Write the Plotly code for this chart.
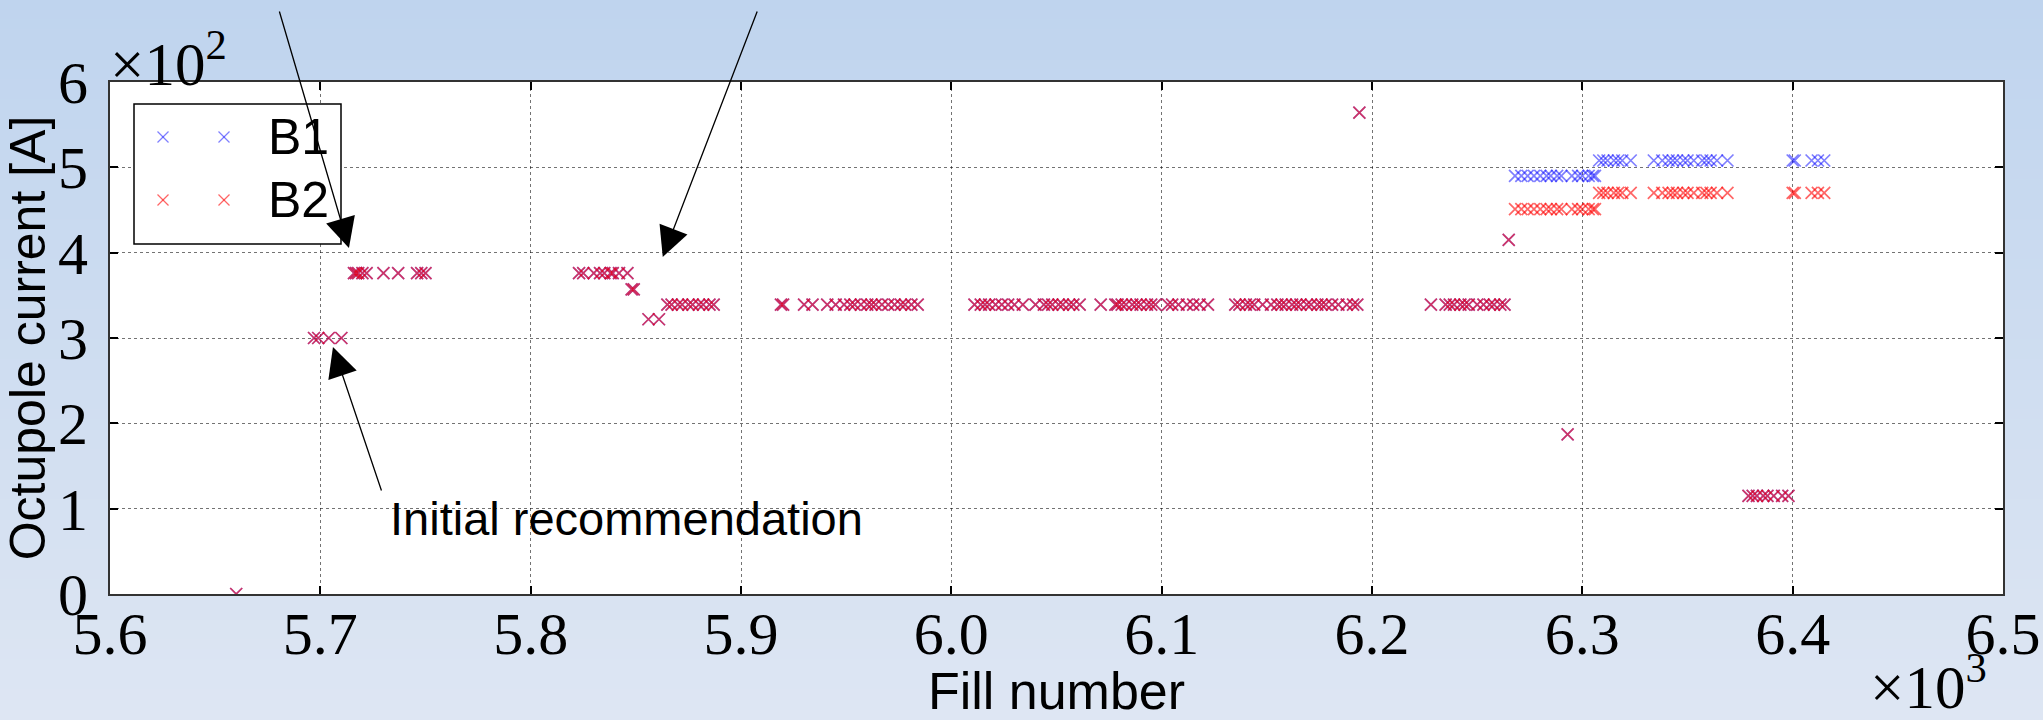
import plotly.graph_objects as go

# ---------------- data ----------------
# Fills where both beams had the same octupole current
fill_common = [5660,
               5697, 5699, 5704, 5710,
               5716, 5717, 5718, 5720, 5722, 5730, 5737, 5746, 5748, 5750,
               5823, 5825, 5830, 5833, 5835, 5838, 5839, 5842, 5846,
               5848, 5849,
               5856, 5861,
               5865, 5867, 5870, 5872, 5875, 5877, 5880, 5882, 5885, 5887,
               5919, 5920, 5930, 5934,
               5941, 5945, 5949, 5952, 5954, 5957, 5960, 5962, 5964, 5967,
               5970, 5973, 5976, 5978, 5981, 5984,
               6011, 6014, 6016, 6018, 6021, 6024, 6027, 6030, 6034,
               6040, 6044, 6046, 6048, 6051, 6053, 6056, 6058, 6061,
               6071, 6078, 6079, 6081, 6083, 6086, 6088, 6090, 6093, 6095, 6097,
               6103, 6105, 6108, 6112, 6115, 6118, 6122,
               6135, 6137, 6140, 6142, 6144, 6148, 6152, 6155, 6157, 6159,
               6162, 6164, 6166, 6169, 6171, 6174, 6176, 6178, 6181, 6184,
               6188, 6191, 6193,
               6194,
               6228, 6235, 6237, 6239, 6242, 6244, 6246, 6250, 6253, 6256,
               6258, 6261, 6263,
               6265,
               6293,
               6379, 6381, 6383, 6386, 6388, 6391, 6395, 6398]
current_common = [0,
                  300, 300, 300, 300,
                  376, 376, 376, 376, 376, 376, 376, 376, 376, 376,
                  376, 376, 376, 376, 376, 376, 376, 376, 376,
                  357, 357,
                  322, 322,
                  339, 339, 339, 339, 339, 339, 339, 339, 339, 339,
                  339, 339, 339, 339,
                  339, 339, 339, 339, 339, 339, 339, 339, 339, 339,
                  339, 339, 339, 339, 339, 339,
                  339, 339, 339, 339, 339, 339, 339, 339, 339,
                  339, 339, 339, 339, 339, 339, 339, 339, 339,
                  339, 339, 339, 339, 339, 339, 339, 339, 339, 339, 339,
                  339, 339, 339, 339, 339, 339, 339,
                  339, 339, 339, 339, 339, 339, 339, 339, 339, 339,
                  339, 339, 339, 339, 339, 339, 339, 339, 339, 339,
                  339, 339, 339,
                  564,
                  339, 339, 339, 339, 339, 339, 339, 339, 339, 339,
                  339, 339, 339,
                  415,
                  187,
                  115, 115, 115, 115, 115, 115, 115, 115]

# Fills where the two beams had different currents
fill_split = [6268, 6271, 6274, 6277, 6280, 6283, 6285, 6288, 6290,
              6295, 6298, 6300, 6303, 6305, 6306,
              6308, 6310, 6312, 6315, 6317, 6319, 6323,
              6334, 6338, 6341, 6343, 6345, 6348, 6350, 6353, 6357, 6359,
              6361, 6364, 6369,
              6400, 6401, 6409, 6412, 6415]
b1_split = [490] * 15 + [508] * 7 + [508] * 13 + [508] * 5
b2_split = [451] * 15 + [470] * 7 + [470] * 13 + [470] * 5

b1_fill = fill_common + fill_split
b1_current = current_common + b1_split
b2_fill = fill_common + fill_split
b2_current = current_common + b2_split

x_tickvals = [5600, 5700, 5800, 5900, 6000, 6100, 6200, 6300, 6400, 6500]
x_ticktext = ["5.6", "5.7", "5.8", "5.9", "6.0", "6.1", "6.2", "6.3", "6.4", "6.5"]
y_tickvals = [0, 100, 200, 300, 400, 500, 600]
y_ticktext = ["0", "1", "2", "3", "4", "5", "6"]

series_names = ["B1", "B2"]
B1_COLOR = "rgba(0,0,255,0.5)"
B2_COLOR = "rgba(255,0,0,0.6)"

# ---------------- layout geometry ----------------
W, H = 2043, 720
ML, MR, MT, MB = 110, 40, 82, 126
PW = W - ML - MR
PH = H - MT - MB


def px(xp):
    return (xp - ML) / PW


def py(yp):
    return (H - MB - yp) / PH


SERIF = "Liberation Serif, Times New Roman, serif"
SANS = "Liberation Sans, Arial, sans-serif"

fig = go.Figure()
fig.add_trace(go.Scatter(
    x=b1_fill, y=b1_current, mode="markers", name=series_names[0],
    marker=dict(symbol="x-thin", size=12, color=B1_COLOR,
                line=dict(width=1.7, color=B1_COLOR)),
    showlegend=False))
fig.add_trace(go.Scatter(
    x=b2_fill, y=b2_current, mode="markers", name=series_names[1],
    marker=dict(symbol="x-thin", size=12, color=B2_COLOR,
                line=dict(width=1.7, color=B2_COLOR)),
    showlegend=False))

shapes = []
# background gradient (slide background)
top_c = (191, 212, 238)
bot_c = (222, 230, 243)
N = 72
for i in range(N):
    t = (i + 0.5) / N
    c = tuple(round(top_c[k] + (bot_c[k] - top_c[k]) * t) for k in range(3))
    y0p = i * H / N - 0.6
    y1p = (i + 1) * H / N + 0.6
    shapes.append(dict(type="rect", xref="paper", yref="paper",
                       x0=px(-5), x1=px(W + 5), y0=py(y1p), y1=py(y0p),
                       fillcolor="rgb(%d,%d,%d)" % c, line=dict(width=0),
                       layer="below"))
# white plotting area
shapes.append(dict(type="rect", xref="paper", yref="paper", x0=0, x1=1, y0=0, y1=1,
                   fillcolor="white", line=dict(width=0), layer="below"))
# legend box
shapes.append(dict(type="rect", xref="paper", yref="paper",
                   x0=px(134), x1=px(341), y0=py(244), y1=py(104),
                   fillcolor="white", line=dict(color="black", width=1.5),
                   layer="above"))


def legend_x(cx, cy, color, half=5.5):
    return [
        dict(type="line", xref="paper", yref="paper",
             x0=px(cx - half), x1=px(cx + half), y0=py(cy - half), y1=py(cy + half),
             line=dict(color=color, width=1.3), layer="above"),
        dict(type="line", xref="paper", yref="paper",
             x0=px(cx - half), x1=px(cx + half), y0=py(cy + half), y1=py(cy - half),
             line=dict(color=color, width=1.3), layer="above"),
    ]


for cx in (163, 224):
    shapes += legend_x(cx, 137, B1_COLOR)
    shapes += legend_x(cx, 200, B2_COLOR)

ARROW = dict(showarrow=True, arrowhead=2, arrowsize=4.6, arrowwidth=1.3,
             arrowcolor="black", text="")

annotations = [
    dict(xref="paper", yref="paper", x=px(266), y=py(137), xanchor="left",
         yanchor="middle", text=series_names[0], showarrow=False,
         font=dict(family=SANS, size=50, color="black")),
    dict(xref="paper", yref="paper", x=px(266), y=py(200), xanchor="left",
         yanchor="middle", text=series_names[1], showarrow=False,
         font=dict(family=SANS, size=50, color="black")),
    # exponent labels
    dict(xref="paper", yref="paper", x=0, y=1, xanchor="left", yanchor="bottom",
         text="×10<sup>2</sup>", showarrow=False, yshift=-18, xshift=-2,
         font=dict(family=SERIF, size=61, color="black")),
    dict(xref="paper", yref="paper", x=1, y=0, xanchor="right", yanchor="bottom",
         text="×10<sup>3</sup>", showarrow=False, yshift=-129, xshift=-14,
         font=dict(family=SERIF, size=61, color="black")),
    # arrows
    dict(xref="x", yref="y", x=5713.6, y=405.5, ax=-70, ay=-238, **ARROW),
    dict(xref="x", yref="y", x=5862.8, y=395, ax=95, ay=-247, **ARROW),
    dict(xref="x", yref="y", x=5706, y=289.5, ax=49, ay=145, **ARROW),
    dict(xref="x", yref="y", x=5732, y=89, xanchor="left", yanchor="middle",
         text="Initial recommendation", showarrow=False,
         font=dict(family=SANS, size=47, color="black")),
]

fig.update_layout(
    width=W, height=H,
    margin=dict(l=ML, r=MR, t=MT, b=MB, autoexpand=False),
    paper_bgcolor="rgb(210,222,240)",
    plot_bgcolor="rgba(0,0,0,0)",
    shapes=shapes,
    annotations=annotations,
    showlegend=False,
    xaxis=dict(
        range=[5600, 6500], tickvals=x_tickvals, ticktext=x_ticktext,
        showgrid=True, gridcolor="rgba(0,0,0,0.55)", griddash="dot", gridwidth=1,
        showline=True, linecolor="#333333", linewidth=2, mirror="ticks",
        ticks="inside", ticklen=8, tickwidth=1.5, tickcolor="black",
        tickfont=dict(family=SERIF, size=60, color="black"),
        ticklabelstandoff=-14,
        zeroline=False,
        title=dict(text="Fill number", standoff=14,
                   font=dict(family=SANS, size=52, color="black")),
        automargin=False,
    ),
    yaxis=dict(
        range=[0, 600], tickvals=y_tickvals, ticktext=y_ticktext,
        showgrid=True, gridcolor="rgba(0,0,0,0.55)", griddash="dot", gridwidth=1,
        showline=True, linecolor="#333333", linewidth=2, mirror="ticks",
        ticks="inside", ticklen=8, tickwidth=1.5, tickcolor="black",
        tickfont=dict(family=SERIF, size=60, color="black"),
        ticklabelstandoff=8,
        zeroline=False,
        title=dict(text="Octupole current [A]", standoff=4,
                   font=dict(family=SANS, size=50, color="black")),
        automargin=False,
    ),
)

fig.write_html("out.html",
               config={"displayModeBar": False},
               post_script="document.body.style.margin='0';"
                           "document.body.style.overflow='hidden';")
